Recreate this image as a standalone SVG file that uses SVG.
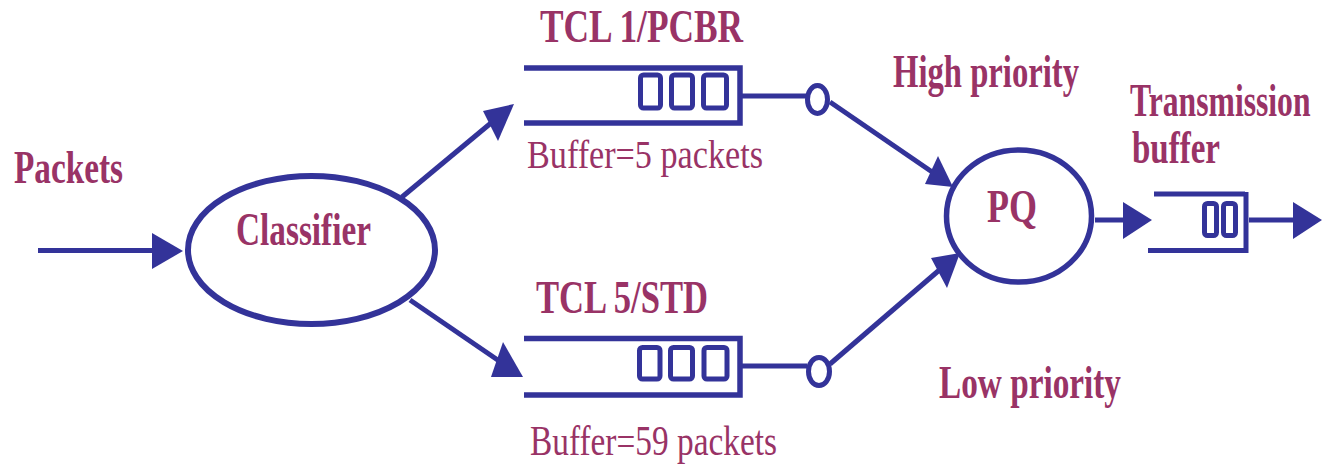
<svg xmlns="http://www.w3.org/2000/svg" width="1323" height="464" viewBox="0 0 1323 464">
  <style>
    .lbl { font-family: "Liberation Serif", "Times New Roman", serif; font-weight: bold; font-size: 46px; fill: #993366; }
    .note { font-family: "Liberation Serif", "Times New Roman", serif; font-weight: normal; fill: #993366; }
    .edge { stroke: #333399; stroke-width: 5; fill: none; }
    .head { fill: #333399; stroke: none; }
    .shape { stroke: #333399; fill: none; }
    .slot { stroke: #333399; stroke-width: 5; fill: none; }
  </style>

  <!-- incoming packet stream -->
  <g id="input">
    <text class="lbl" x="14" y="183" textLength="109" lengthAdjust="spacingAndGlyphs">Packets</text>
  </g>

  <!-- classifier -->
  <g id="classifier">
    <ellipse class="shape" cx="311.5" cy="250" rx="123.5" ry="74" stroke-width="6"/>
    <text class="lbl" x="236" y="245" textLength="135" lengthAdjust="spacingAndGlyphs">Classifier</text>
  </g>

  <!-- high priority queue -->
  <g id="queue-high">
    <text class="lbl" x="540" y="42" textLength="203" lengthAdjust="spacingAndGlyphs">TCL 1/PCBR</text>
    <polyline class="shape" stroke-width="5.5" points="524,68 740,68 740,123 524,123"/>
    <rect class="slot" x="640.5" y="75" width="20" height="33" rx="3"/>
    <rect class="slot" x="671.5" y="75" width="21" height="33" rx="3"/>
    <rect class="slot" x="703.5" y="75" width="23" height="33" rx="3"/>
    <text class="note" x="527" y="168" font-size="40" textLength="236" lengthAdjust="spacingAndGlyphs">Buffer=5 packets</text>
    <line class="edge" x1="740" y1="96" x2="806" y2="96"/>
    <ellipse class="shape" stroke-width="5" cx="817.5" cy="99.5" rx="10" ry="14"/>
  </g>

  <!-- low priority queue -->
  <g id="queue-low">
    <text class="lbl" x="536" y="313" textLength="172" lengthAdjust="spacingAndGlyphs">TCL 5/STD</text>
    <polyline class="shape" stroke-width="5.5" points="524,338.5 740,338.5 740,395 524,395"/>
    <rect class="slot" x="639.5" y="347.5" width="20.5" height="31.5" rx="3"/>
    <rect class="slot" x="670.5" y="347.5" width="22" height="31.5" rx="3"/>
    <rect class="slot" x="704" y="347.5" width="23" height="31.5" rx="3"/>
    <text class="note" x="530" y="455" font-size="43" textLength="247" lengthAdjust="spacingAndGlyphs">Buffer=59 packets</text>
    <line class="edge" x1="740" y1="366" x2="807" y2="366"/>
    <ellipse class="shape" stroke-width="5" cx="819" cy="371.5" rx="10.5" ry="14"/>
  </g>

  <!-- priority labels -->
  <g id="priority-labels">
    <text class="lbl" x="893" y="87" textLength="186" lengthAdjust="spacingAndGlyphs">High priority</text>
    <text class="lbl" x="939" y="398" textLength="182" lengthAdjust="spacingAndGlyphs">Low priority</text>
  </g>

  <!-- priority queue scheduler -->
  <g id="pq">
    <ellipse class="shape" stroke-width="5.5" cx="1019" cy="216" rx="72.5" ry="66"/>
    <text class="lbl" x="987" y="222" font-size="43" textLength="50" lengthAdjust="spacingAndGlyphs">PQ</text>
  </g>

  <!-- transmission buffer -->
  <g id="tx-buffer">
    <text class="lbl" transform="translate(1130,116) scale(0.688,1)">Transmission</text>
    <text class="lbl" x="1132" y="163" textLength="88" lengthAdjust="spacingAndGlyphs">buffer</text>
    <line class="edge" stroke-width="5.5" x1="1154" y1="194" x2="1245" y2="194"/>
    <line class="edge" stroke-width="5.5" x1="1246" y1="192" x2="1246" y2="253"/>
    <line class="edge" stroke-width="5.5" x1="1148" y1="250.5" x2="1244" y2="250.5"/>
    <rect class="slot" x="1204.5" y="203.5" width="12" height="32" rx="3"/>
    <rect class="slot" x="1223.5" y="203.5" width="12" height="32" rx="3"/>
  </g>

  <!-- connectors -->
  <g id="connectors">
    <line class="edge" stroke-width="7" x1="38" y1="250.5" x2="156" y2="250.5"/>
    <polygon class="head" points="152,233 152,269 183,251"/>

    <line class="edge" x1="402" y1="197" x2="497" y2="118"/>
    <polygon class="head" points="514,104 483,111 498,141"/>

    <line class="edge" x1="410" y1="300" x2="505" y2="365"/>
    <polygon class="head" points="523,377 491,377 503,342"/>

    <line class="edge" x1="830" y1="102" x2="938" y2="176"/>
    <polygon class="head" points="953,187 925,184 938,156"/>

    <line class="edge" x1="830" y1="364" x2="944" y2="266"/>
    <polygon class="head" points="960,253 931,258 947,288"/>

    <line class="edge" x1="1095" y1="220" x2="1126" y2="220"/>
    <polygon class="head" points="1123,202 1123,239 1152,220"/>

    <line class="edge" x1="1249" y1="220" x2="1296" y2="220"/>
    <polygon class="head" points="1293,202 1293,239 1322,220"/>
  </g>
</svg>
